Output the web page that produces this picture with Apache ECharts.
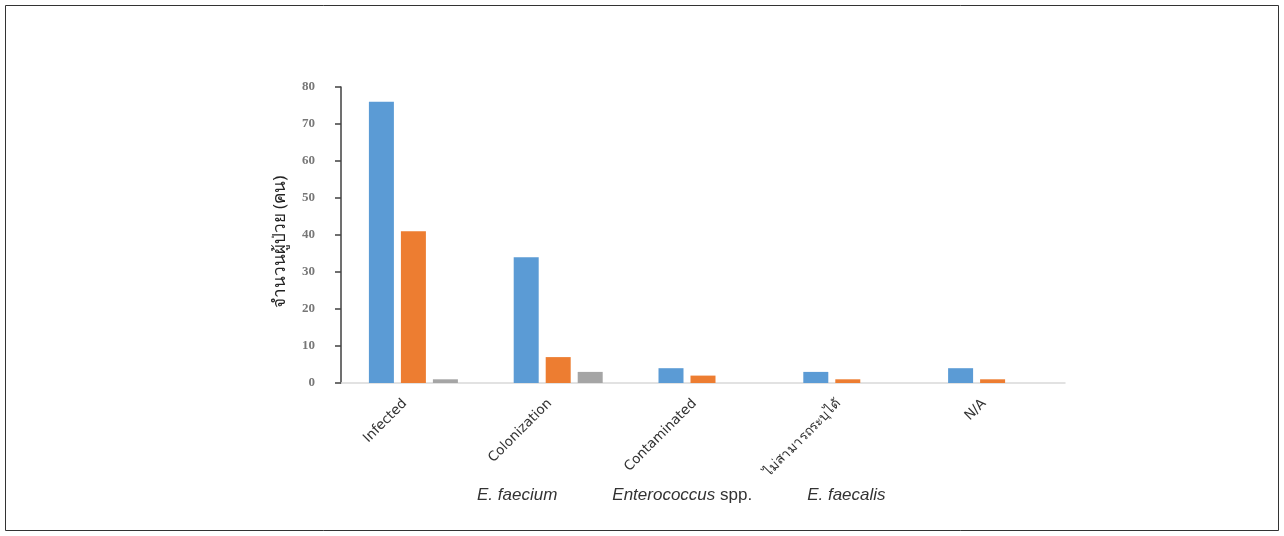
<!DOCTYPE html>
<html>
<head>
<meta charset="utf-8">
<script src="https://cdn.jsdelivr.net/npm/echarts@6/dist/echarts.min.js"></script>
<style>
  html, body { margin: 0; padding: 0; background: #fff; }
  #chart { width: 1284px; height: 536px; }
</style>
</head>
<body>
<div id="chart"></div>
<script>
// Patient outcome categories
const categories = ['Infected', 'Colonization', 'Contaminated', 'ไม่สามารถระบุได้', 'N/A'];

// Patient counts per species
const faecium = [76, 34, 4, 3, 4];
const faecalis = [41, 7, 2, 1, 1];
const enterococcusSpp = [1, 3, 0, 0, 0];

const yTicks = [0, 10, 20, 30, 40, 50, 60, 70, 80];

const chart = echarts.init(document.getElementById('chart'), null, { renderer: 'canvas' });

chart.setOption({
  animation: false,
  backgroundColor: '#fff',
  textStyle: { fontFamily: 'DejaVu Sans' },
  graphic: [{
    type: 'rect',
    shape: { x: 5.5, y: 5.5, width: 1273, height: 525 },
    style: { fill: 'none', stroke: '#333', lineWidth: 1 },
    silent: true
  }],
  grid: { left: 341, right: 219, top: 87, bottom: 153, containLabel: false },
  legend: {
    bottom: 27,
    left: 467,
    itemWidth: 0,
    itemHeight: 0,
    itemGap: 50,
    icon: 'rect',
    data: ['E. faecium', 'Enterococcus spp.', 'E. faecalis'],
    formatter: function (name) {
      if (name === 'Enterococcus spp.') return '{i|Enterococcus} {n|spp.}';
      return '{i|' + name + '}';
    },
    textStyle: {
      fontFamily: 'Liberation Sans',
      fontSize: 17,
      color: '#333',
      rich: {
        i: { fontStyle: 'italic', fontFamily: 'Liberation Sans', fontSize: 17, color: '#333' },
        n: { fontFamily: 'Liberation Sans', fontSize: 17, color: '#333' }
      }
    }
  },
  xAxis: {
    type: 'category',
    data: categories,
    axisLine: { lineStyle: { color: '#d9d9d9', width: 1.5 } },
    axisTick: { show: false },
    axisLabel: {
      rotate: 45,
      interval: 0,
      margin: 10,
      padding: [0, 12, 0, 0],
      fontSize: 13.5,
      color: '#333',
      fontFamily: 'DejaVu Sans'
    }
  },
  yAxis: {
    type: 'value',
    min: yTicks[0],
    max: yTicks[yTicks.length - 1],
    interval: yTicks[1] - yTicks[0],
    name: 'จำนวนผู้ป่วย (คน)',
    nameLocation: 'middle',
    nameGap: 52,
    nameRotate: 90,
    nameTextStyle: { fontFamily: 'Noto Sans', fontSize: 17, color: '#222', padding: [0, 14, 0, 0] },
    axisLine: { show: true, lineStyle: { color: '#404040', width: 1.5 } },
    axisTick: { show: true, inside: false, length: 6, lineStyle: { color: '#404040', width: 1.5 } },
    splitLine: { show: false },
    axisLabel: {
      margin: 26,
      fontFamily: 'Liberation Serif',
      fontWeight: 'bold',
      fontSize: 13,
      color: '#777'
    }
  },
  series: [
    { name: 'E. faecium', type: 'bar', data: faecium, barWidth: 25, barGap: '28%', barCategoryGap: '38%',
      itemStyle: { color: '#5B9BD5' } },
    { name: 'E. faecalis', type: 'bar', data: faecalis, barWidth: 25,
      itemStyle: { color: '#ED7D31' } },
    { name: 'Enterococcus spp.', type: 'bar', data: enterococcusSpp, barWidth: 25,
      itemStyle: { color: '#A5A5A5' } }
  ]
});
</script>
</body>
</html>
